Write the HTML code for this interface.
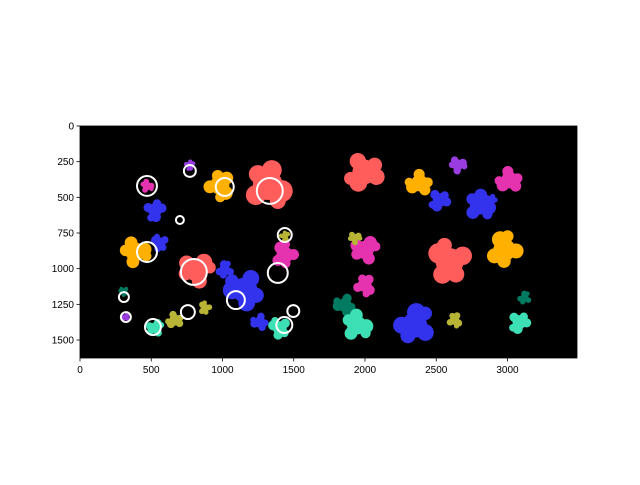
<!DOCTYPE html>
<html><head><meta charset="utf-8"><style>
body{margin:0;background:#fff;font-family:"Liberation Sans",sans-serif}
svg text{font-family:"Liberation Sans",sans-serif;font-size:10px;fill:#000}
</style></head><body>
<svg id="chart" width="640" height="480" viewBox="0 0 640 480">
<rect width="640" height="480" fill="#fff"/>
<g id="plot"></g>
<g id="axes"></g>
</svg>
<script>
const xTicks=[0,500,1000,1500,2000,2500,3000];
const yTicks=[0,250,500,750,1000,1250,1500];
const imgW=3488, imgH=1626;
// blobs: x, y, radius (data units), color key
const blobX=[1318,1998,2594,813,981,2383,2979,386,526,1157,2348,2804,2524,561,1998,1998,3014,1437,2650,770,1858,3119,1941,3084,1402,526,2629,666,877,1928,1437,1262,1016,470,2880,308,322];
const blobY=[414,322,953,1009,414,400,869,883,589,1150,1395,554,519,820,869,1115,379,904,273,273,1255,1206,1395,1374,1416,1416,1360,1360,1276,785,771,1374,1009,420,519,1160,1339];
const blobR=[140,115,130,105,90,78,105,90,65,118,118,90,65,52,85,65,78,78,52,32,65,40,90,65,65,52,46,52,40,40,32,52,52,40,40,30,28];
const blobC=["s","s","s","s","o","o","o","o","b","b","b","b","b","b","m","m","m","m","p","p","t","t","n","n","n","n","l","l","l","l","l","b","b","m","b","t","p"];
// detection circles: x, y, radius (data units)
const ringX=[470,771,1016,1332,701,470,799,1437,1388,1094,308,322,757,512,1497,1434];
const ringY=[420,315,427,455,659,883,1023,764,1030,1220,1199,1339,1304,1409,1297,1395];
const ringR=[70,42,63,91,28,70,91,49,70,63,35,35,49,56,42,56];
const colors={s:"#ff5c5c",o:"#ffb000",b:"#3333ee",m:"#e533b0",p:"#9a3de0",t:"#007a60",n:"#3de0b4",l:"#b8b436"};
const X0=80,X1=577,Y0=126,Y1=358;
const sx=v=>X0+v/imgW*(X1-X0);
const sy=v=>Y0+v/imgH*(Y1-Y0);
const sr=v=>v/imgW*(X1-X0);
const NS="http://www.w3.org/2000/svg";
const plot=document.getElementById('plot'), axes=document.getElementById('axes');
function mk(t,a,p){const e=document.createElementNS(NS,t);for(const k in a)e.setAttribute(k,a[k]);p.appendChild(e);return e;}
const bg=mk('rect',{x:X0,y:Y0,width:X1-X0,height:Y1-Y0,fill:'#000'},plot);


const offs=[[0,0,1],[0.7,0.3,0.55],[-0.6,0.5,0.5],[0.2,-0.75,0.5],[-0.5,-0.55,0.45],[0.5,0.8,0.4]];
blobX.forEach((x,i)=>{
  const g=mk('g',{fill:colors[blobC[i]]},plot);
  
  
  const cx=sx(x),cy=sy(blobY[i]),r=sr(blobR[i]);
  offs.forEach((o,j)=>{const rot=(i*1.7)%6.28;const dx=o[0]*Math.cos(rot)-o[1]*Math.sin(rot),dy=o[0]*Math.sin(rot)+o[1]*Math.cos(rot);
    mk('circle',{cx:cx+dx*r,cy:cy+dy*r,r:r*o[2]*(j?1:0.75)},g);});
});
ringX.forEach((x,i)=>{
  const c=mk('circle',{cx:sx(x),cy:sy(ringY[i]),r:sr(ringR[i]),fill:'none',stroke:'#fff','stroke-width':2},plot);
  
  
});
const fr=mk('rect',{x:X0,y:Y0,width:X1-X0,height:Y1-Y0,fill:'none',stroke:'#000','stroke-width':0.8},axes);


xTicks.forEach(t=>{const x=sx(t);mk('line',{x1:x,x2:x,y1:Y1,y2:Y1+3.5,stroke:'#000','stroke-width':0.8},axes);
  const tx=mk('text',{x:x,y:Y1+15,'text-anchor':'middle'},axes);tx.textContent=t;
  
  });
yTicks.forEach(t=>{const y=sy(t);mk('line',{x1:X0-3.5,x2:X0,y1:y,y2:y,stroke:'#000','stroke-width':0.8},axes);
  const tx=mk('text',{x:X0-6,y:y+3.5,'text-anchor':'end'},axes);tx.textContent=t;
  
  });
</script>
</body></html>
